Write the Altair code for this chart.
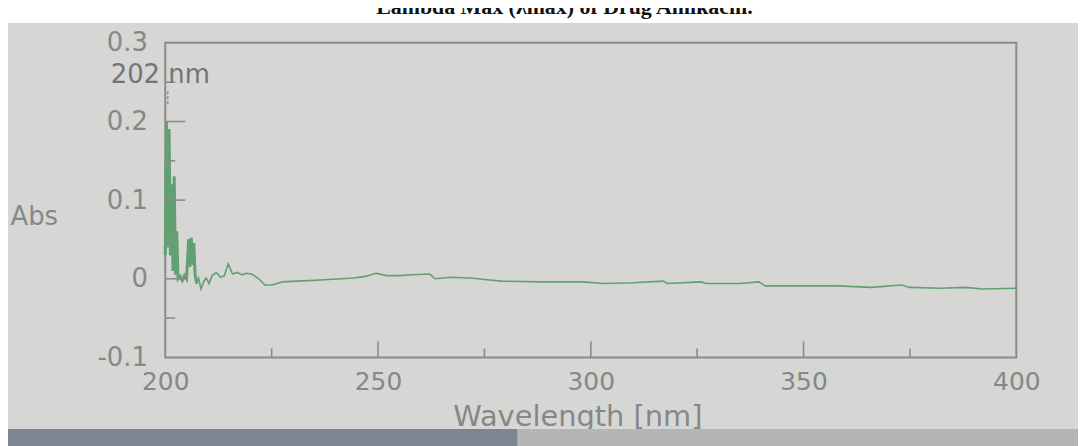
import altair as alt
import pandas as pd

# ---------------- data ----------------
wavelength = [200.0, 200.3, 200.6, 200.9, 201.2, 201.5, 201.8, 202.1, 202.4, 202.7,
              203.0, 203.5, 204.0, 204.5, 205.0, 205.5, 205.8, 206.1, 206.4, 206.7,
              207.0, 207.4, 207.8, 208.4, 209.0, 209.6, 210.3, 211.0, 212.0, 213.0,
              213.9, 214.8, 215.8, 217.0, 218.0, 219.0, 220.3, 222.0, 223.4, 225.1,
              227.5, 231.0, 235.0, 238.3, 244.3, 247.0, 249.5, 252.0, 255.0, 258.0,
              262.2, 263.4, 267.0, 271.8, 275.0, 279.0, 288.5, 298.0, 303.0, 310.0,
              317.0, 318.0, 326.0, 327.0, 335.0, 339.5, 341.0, 350.0, 358.0, 366.0,
              373.0, 375.0, 382.0, 388.0, 392.0, 400.0]
absorbance = [0.030, 0.200, 0.040, 0.190, 0.030, 0.120, 0.010, 0.130, 0.005, 0.060,
              0.000, 0.003, -0.002, 0.004, 0.000, 0.050, 0.015, 0.052, 0.018, 0.045,
              0.005, -0.006, 0.001, -0.013, -0.004, 0.001, -0.006, 0.004, 0.008, 0.002,
              0.004, 0.019, 0.006, 0.008, 0.005, 0.007, 0.006, 0.000, -0.008, -0.008,
              -0.004, -0.003, -0.002, -0.001, 0.001, 0.003, 0.007, 0.004, 0.004, 0.005,
              0.006, 0.000, 0.002, 0.001, -0.001, -0.003, -0.004, -0.004, -0.006, -0.005,
              -0.003, -0.006, -0.004, -0.006, -0.006, -0.004, -0.009, -0.009, -0.009, -0.011,
              -0.008, -0.011, -0.012, -0.011, -0.013, -0.012]

x_label_values = [200, 250, 300, 350, 400]
y_label_values = [-0.1, 0.0, 0.1, 0.2, 0.3]
x_major_ticks = [250, 300, 350]
x_minor_ticks = [225, 275, 325, 375]
y_major_ticks = [0.2, 0.1, 0.0]
y_minor_ticks = [0.25, 0.15, 0.05, -0.05]

peak_text = ["202 nm"]
peak_x = [200]
peak_y = [0.249]
peak_marker_x = [200.6]
peak_marker_y = [0.222]
peak_marker_y2 = [0.240]

title_text = "Lambda Max (\u03bbmax) of Drug Amikacin."
x_title = "Wavelength [nm]"
y_title = "Abs"

# ---------------- layout / style ----------------
W, H = 855, 316
PAD_L, PAD_T, PAD_R, PAD_B = 158, 34, 62, 88
BG = "#d6d6d4"
FRAME = "#8a8a8a"
TXT = "#878787"
GREEN = "#62a072"
FONT = "DejaVu Sans"

xs = alt.Scale(domain=[200, 400], nice=False, zero=False)
ys = alt.Scale(domain=[-0.1, 0.3], nice=False, zero=False)

spec = pd.DataFrame({"wl": wavelength, "abs": absorbance})
one = pd.DataFrame({"k": [0]})

# white strip above the photo, dark strip below it
top_strip = alt.Chart(one).mark_rect(color="white").encode(
    x=alt.value(-PAD_L - 10), x2=alt.value(W + PAD_R + 10),
    y=alt.value(-PAD_T - 10), y2=alt.value(22 - 42))
band = alt.Chart(one).mark_rect(color="#7d8592").encode(
    x=alt.value(-PAD_L - 10), x2=alt.value(520 - 166),
    y=alt.value(430 - 42), y2=alt.value(H + PAD_B + 10))
band2 = alt.Chart(one).mark_rect(color="#b4b5b7").encode(
    x=alt.value(520 - 166), x2=alt.value(W + PAD_R + 10),
    y=alt.value(430 - 42), y2=alt.value(H + PAD_B + 10))

title = alt.Chart(one).mark_text(
    text=title_text, font="Liberation Serif", fontWeight="bold", fontSize=22,
    color="#111111", align="center", baseline="alphabetic"
).encode(x=alt.value(567 - 166), y=alt.value(13 - 42))

line = alt.Chart(spec).mark_line(color=GREEN, strokeWidth=1.6).encode(
    x=alt.X("wl:Q", scale=xs, axis=alt.Axis(
        values=x_label_values, title=x_title, format="d",
        tickSize=0, domain=False, grid=False, labelFlush=False,
        labelFont=FONT, labelFontSize=25, labelColor=TXT, labelPadding=12,
        titleFont=FONT, titleFontSize=29, titleFontWeight="normal",
        titleColor=TXT, titlePadding=8, titleX=414, titleAlign="center")),
    y=alt.Y("abs:Q", scale=ys, axis=alt.Axis(
        values=y_label_values, title=y_title,
        labelExpr="datum.value == 0 ? '0' : replace(format(datum.value, '.1f'), '\u2212', '-')",
        tickSize=0, domain=False, grid=False,
        labelFont=FONT, labelFontSize=26, labelColor=TXT, labelPadding=18,
        titleFont=FONT, titleFontSize=26, titleFontWeight="normal",
        titleColor=TXT, titleAngle=0, titleAlign="left", titleBaseline="middle",
        titleX=-156, titleY=174)))

spikes = alt.Chart(spec).transform_filter("datum.wl <= 207.5").mark_line(
    color=GREEN, strokeWidth=3).encode(
    x=alt.X("wl:Q", scale=xs), y=alt.Y("abs:Q", scale=ys))

ymaj = alt.Chart(pd.DataFrame({"v": y_major_ticks})).mark_rule(
    color=FRAME, strokeWidth=1.6).encode(
    y=alt.Y("v:Q", scale=ys), x=alt.value(0), x2=alt.value(20))
ymin = alt.Chart(pd.DataFrame({"v": y_minor_ticks})).mark_rule(
    color=FRAME, strokeWidth=1.6).encode(
    y=alt.Y("v:Q", scale=ys), x=alt.value(0), x2=alt.value(10))
xmaj = alt.Chart(pd.DataFrame({"v": x_major_ticks})).mark_rule(
    color=FRAME, strokeWidth=1.6).encode(
    x=alt.X("v:Q", scale=xs), y=alt.value(H), y2=alt.value(H - 16))
xmin = alt.Chart(pd.DataFrame({"v": x_minor_ticks})).mark_rule(
    color=FRAME, strokeWidth=1.6).encode(
    x=alt.X("v:Q", scale=xs), y=alt.value(H), y2=alt.value(H - 9))

marker = alt.Chart(pd.DataFrame({"x": peak_marker_x, "y": peak_marker_y,
                                 "y2": peak_marker_y2})).mark_rule(
    color="#c06060", strokeWidth=1.2, strokeDash=[3, 2]).encode(
    x=alt.X("x:Q", scale=xs), y=alt.Y("y:Q", scale=ys), y2="y2:Q")

peak = alt.Chart(pd.DataFrame({"x": peak_x, "y": peak_y, "t": peak_text})).mark_text(
    font=FONT, fontSize=26, color="#747474", align="center", baseline="alphabetic",
    dx=-5).encode(
    x=alt.X("x:Q", scale=xs), y=alt.Y("y:Q", scale=ys), text="t:N")

chart = alt.layer(line, spikes, top_strip, band, band2, title, ymaj, ymin, xmaj, xmin,
                  marker, peak).properties(
    width=W, height=H,
    autosize=alt.AutoSizeParams(type="none"),
    padding={"left": PAD_L, "top": PAD_T, "right": PAD_R, "bottom": PAD_B},
    background=BG,
).configure_view(stroke=FRAME, strokeWidth=2)

chart.save("out.html", embed_options={"renderer": "svg", "actions": False})
